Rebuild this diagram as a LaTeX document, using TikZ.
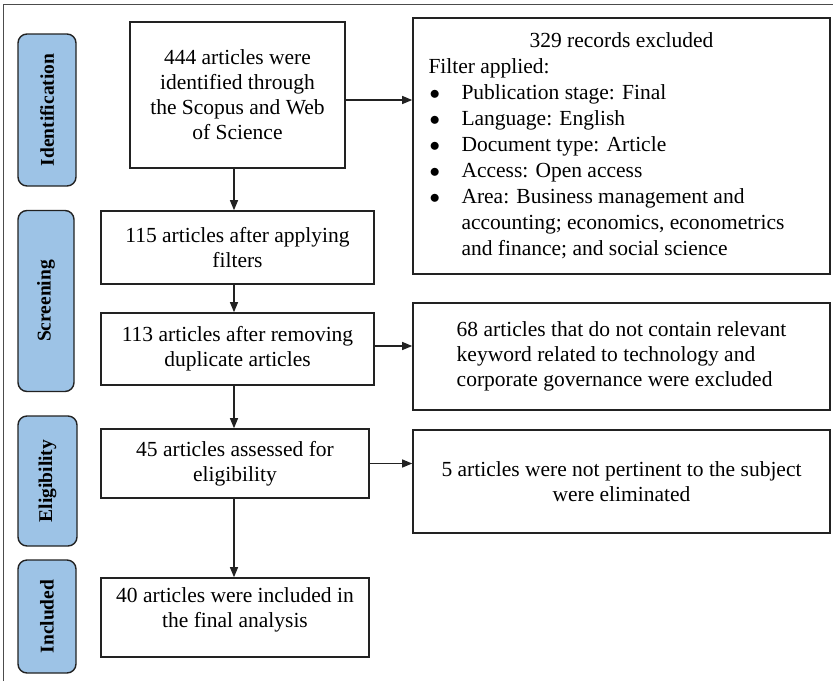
\documentclass[tikz,border=0pt]{standalone}
\usepackage{fontspec}
\setmainfont{Liberation Serif}
\usetikzlibrary{arrows.meta}
\definecolor{phaseblue}{HTML}{9DC3E6}
\definecolor{edge}{HTML}{222222}
\tikzset{
  stage/.style={draw=edge, line width=1.6pt, align=center, inner sep=0pt,
    font=\fontsize{21.5}{25}\selectfont},
  phase/.style={draw=edge, line width=1.4pt, fill=phaseblue, rounded corners=9pt,
    rotate=90, inner sep=0pt, font=\fontsize{19.5}{22}\selectfont\bfseries},
  flow/.style={draw=edge, line width=1.2pt, -{Triangle[length=10pt,width=8pt]}}
}
\newcommand{\bitem}[1]{\par\hangindent=33pt\hangafter=1\noindent\hbox to 33pt{\hspace{1pt}$\bullet$\hfil}#1}

\begin{document}
\begin{tikzpicture}[x=1pt,y=-1pt]
  \useasboundingbox (0,0) rectangle (833,681);
  \draw[gray!60!black, line width=1.3pt] (3.5,681) -- (3.5,4.5) -- (833,4.5);
  % phases
  \node[phase, minimum width=152pt, minimum height=58pt] (ident) at (47,110) {Identification};
  \node[phase, minimum width=181pt, minimum height=56pt] (screen) at (46,301) {Screening};
  \node[phase, minimum width=130pt, minimum height=59pt] (elig) at (47.5,481) {Eligibility};
  \node[phase, minimum width=113pt, minimum height=58pt] (incl) at (47,616.5) {Included};
  % main flow
  \node[stage, minimum width=215pt, minimum height=146pt] (n444) at (237.5,95)
    {444 articles were\\identified through\\the Scopus and Web\\of Science};
  \node[stage, minimum width=273pt, minimum height=73pt] (n115) at (237.5,247.5)
    {115 articles after applying\\filters};
  \node[stage, minimum width=273pt, minimum height=72pt] (n113) at (237.5,349)
    {113 articles after removing\\duplicate articles};
  \node[stage, minimum width=268pt, minimum height=69pt] (n45) at (235,463.5)
    {45 articles assessed for\\eligibility};
  \node[stage, minimum width=268pt, minimum height=79pt, text depth=20pt] (n40) at (235,617.5)
    {40 articles were included in\\the final analysis};
  % exclusions
  \node[stage, minimum width=417pt, minimum height=256pt] (rA) at (621.5,146)
    {\begin{minipage}{386pt}\fontsize{21.5}{26}\selectfont
      \centering 329 records excluded\par
      \raggedright\noindent Filter applied:
      \bitem{Publication stage: Final}
      \bitem{Language: English}
      \bitem{Document type: Article}
      \bitem{Access: Open access}
      \bitem{Area: Business management and accounting; economics, econometrics and finance; and social science}
    \end{minipage}};
  \node[stage, align=left, minimum width=417pt, minimum height=107pt] (rB) at (621.5,356.5)
    {68 articles that do not contain relevant\\keyword related to technology and\\corporate governance were excluded};
  \node[stage, minimum width=417pt, minimum height=103pt] (rC) at (621.5,481.5)
    {5 articles were not pertinent to the subject\\were eliminated};
  % connectors
  \coordinate (spine) at (234,0);
  \draw[flow] (spine |- n444.south) -- (spine |- n115.north);
  \draw[flow] (spine |- n115.south) -- (spine |- n113.north);
  \draw[flow] (spine |- n113.south) -- (spine |- n45.north);
  \draw[flow] (spine |- n45.south) -- (spine |- n40.north);
  \draw[flow] ([yshift=-5pt]n444.east) -- ([yshift=-5pt]n444.east -| rA.west);
  \draw[flow] ([yshift=3pt]n113.east) -- ([yshift=3pt]n113.east -| rB.west);
  \draw[flow] (n45.east) -- (n45.east -| rC.west);
\end{tikzpicture}
\end{document}
